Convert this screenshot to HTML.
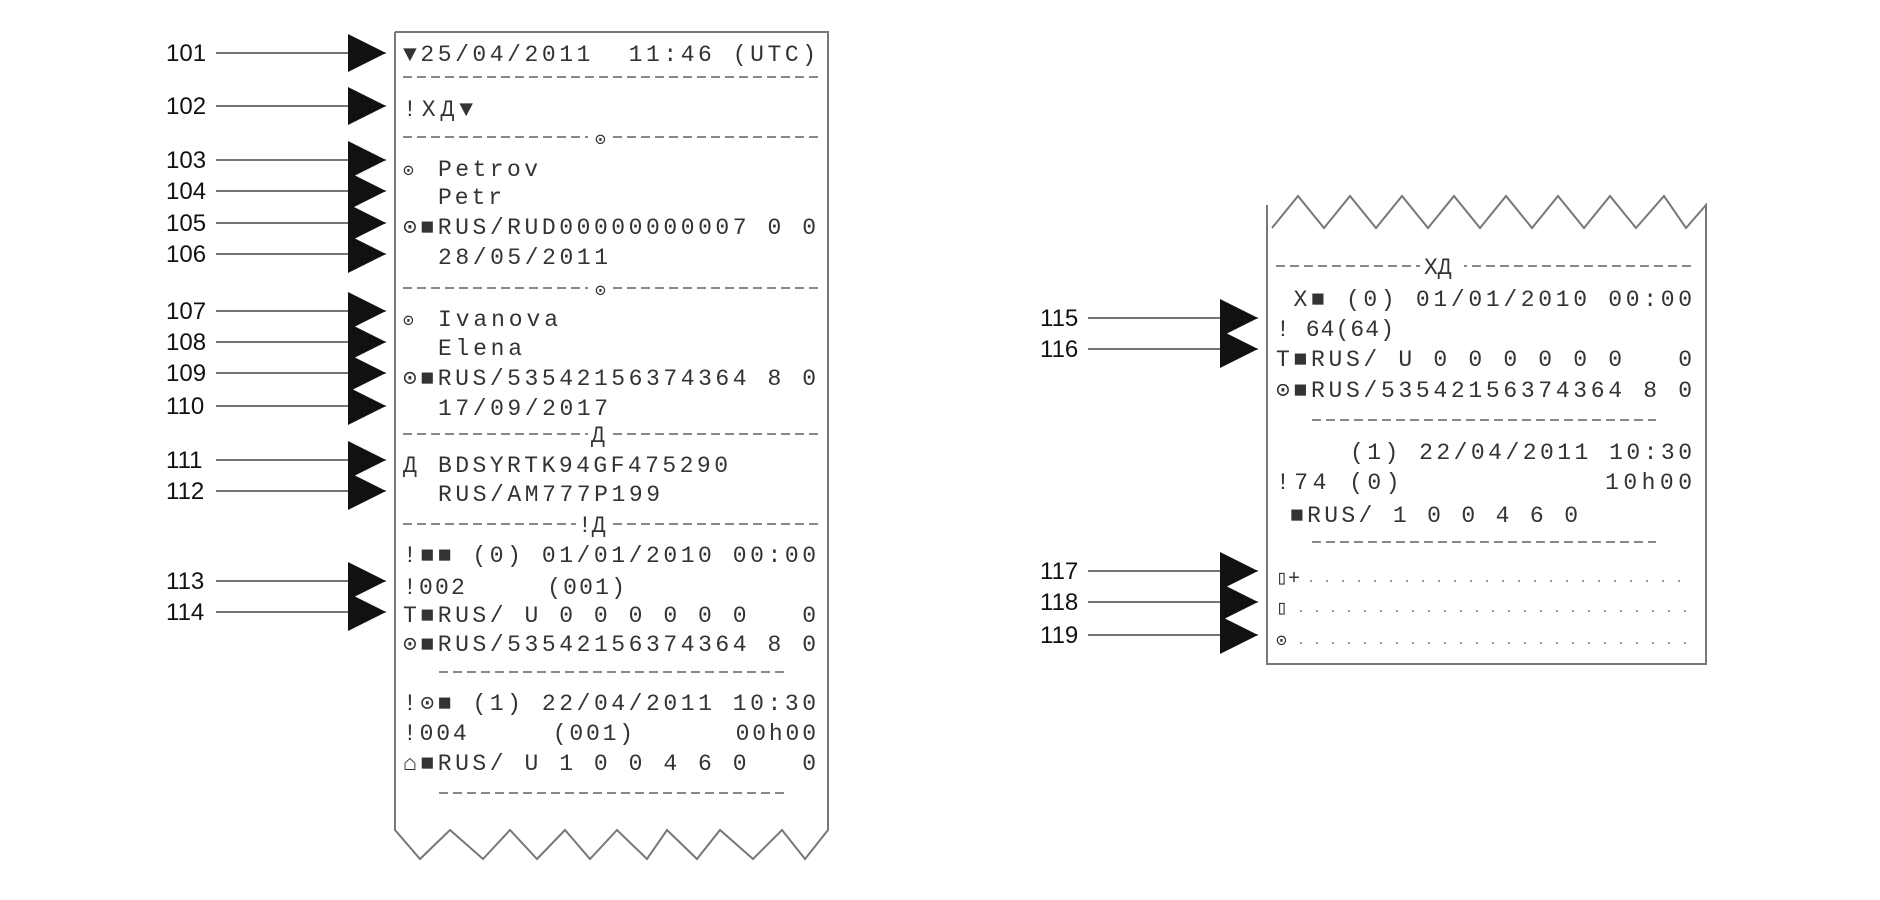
<!DOCTYPE html>
<html><head><meta charset="utf-8"><style>
html,body{margin:0;padding:0;background:#fff}
svg{display:block}
.n{font-family:"Liberation Sans",sans-serif;font-size:24px;fill:#111}
.t{font-family:"Liberation Mono","DejaVu Sans Mono",monospace;font-size:23px;fill:#333;white-space:pre}
.t text{white-space:pre}
</style></head><body>
<svg width="1880" height="900" viewBox="0 0 1880 900" xmlns="http://www.w3.org/2000/svg" xml:space="preserve">
<defs>
<g id="ar"><line x1="0" y1="0" x2="-170" y2="0" stroke="#222" stroke-width="1.3"/><polygon points="0,0 -38,-19 -38,19" fill="#111"/></g>
</defs>
<polyline points="395,32 395,830 420,859 450,830 483,859 510,830 537,859 565,830 590,859 617,830 647,859 667,830 697,859 720,830 753,859 782,830 805,859 828,830 828,32 395,32" fill="none" stroke="#777" stroke-width="2"/>
<g stroke="#888" stroke-width="2" stroke-dasharray="9,5">
<line x1="403" y1="77" x2="820" y2="77"/>
<line x1="403" y1="137" x2="820" y2="137"/>
<line x1="403" y1="288" x2="820" y2="288"/>
<line x1="403" y1="434" x2="820" y2="434"/>
<line x1="403" y1="524" x2="820" y2="524"/>
<line x1="439" y1="672" x2="785" y2="672"/>
<line x1="439" y1="793" x2="785" y2="793"/>
</g>
<g fill="#fff" stroke="none"><rect x="588" y="126" width="24" height="22"/><rect x="588" y="277" width="24" height="22"/><rect x="588" y="423" width="24" height="22"/><rect x="576" y="513" width="36" height="22"/></g>
<g class="t">
<text x="595" y="145" font-size="18">⊙</text><text x="595" y="296" font-size="18">⊙</text><text x="591" y="442">Д</text><text x="578" y="532">!Д</text>
<text x="403" y="61" textLength="413" lengthAdjust="spacing">▼25/04/2011  11:46 (UTC)</text>
<text x="403" y="116" textLength="70" lengthAdjust="spacing">!ХД▼</text>
<text x="403" y="176" font-size="18">⊙</text><text x="438" y="176" textLength="100" lengthAdjust="spacing">Petrov</text>
<text x="438" y="204" textLength="64" lengthAdjust="spacing">Petr</text>
<text x="403" y="234" textLength="413" lengthAdjust="spacing">⊙■RUS/RUD00000000007 0 0</text>
<text x="438" y="264" textLength="170" lengthAdjust="spacing">28/05/2011</text>
<text x="403" y="326" font-size="18">⊙</text><text x="438" y="326" textLength="120" lengthAdjust="spacing">Ivanova</text>
<text x="438" y="355" textLength="84" lengthAdjust="spacing">Elena</text>
<text x="403" y="385" textLength="413" lengthAdjust="spacing">⊙■RUS/53542156374364 8 0</text>
<text x="438" y="415" textLength="170" lengthAdjust="spacing">17/09/2017</text>
<text x="403" y="472">Д</text><text x="438" y="472" textLength="290" lengthAdjust="spacing">BDSYRTK94GF475290</text>
<text x="438" y="501" textLength="222" lengthAdjust="spacing">RUS/AM777P199</text>
<text x="403" y="562" textLength="413" lengthAdjust="spacing">!■■ (0) 01/01/2010 00:00</text>
<text x="403" y="594" textLength="222" lengthAdjust="spacing">!002     (001)</text>
<text x="403" y="622" textLength="413" lengthAdjust="spacing">T■RUS/ U 0 0 0 0 0 0   0</text>
<text x="403" y="651" textLength="413" lengthAdjust="spacing">⊙■RUS/53542156374364 8 0</text>
<text x="403" y="710" textLength="413" lengthAdjust="spacing">!⊙■ (1) 22/04/2011 10:30</text>
<text x="403" y="740" textLength="413" lengthAdjust="spacing">!004     (001)      00h00</text>
<text x="403" y="770" textLength="413" lengthAdjust="spacing">⌂■RUS/ U 1 0 0 4 6 0   0</text>
</g>
<g class="n">
<text x="166" y="61">101</text><text x="166" y="114">102</text><text x="166" y="168">103</text><text x="166" y="199">104</text>
<text x="166" y="231">105</text><text x="166" y="262">106</text><text x="166" y="319">107</text><text x="166" y="350">108</text>
<text x="166" y="381">109</text><text x="166" y="414">110</text><text x="166" y="468">111</text><text x="166" y="499">112</text>
<text x="166" y="589">113</text><text x="166" y="620">114</text>
</g>
<use href="#ar" x="386" y="53"/><use href="#ar" x="386" y="106"/><use href="#ar" x="386" y="160"/><use href="#ar" x="386" y="191"/>
<use href="#ar" x="386" y="223"/><use href="#ar" x="386" y="254"/><use href="#ar" x="386" y="311"/><use href="#ar" x="386" y="342"/>
<use href="#ar" x="386" y="373"/><use href="#ar" x="386" y="406"/><use href="#ar" x="386" y="460"/><use href="#ar" x="386" y="491"/>
<use href="#ar" x="386" y="581"/><use href="#ar" x="386" y="612"/>
<polyline points="1267,205 1267,664 1706,664 1706,205 1686,228 1664,196 1636,228 1610,196 1584,228 1558,196 1532,228 1506,196 1480,228 1454,196 1428,228 1402,196 1376,228 1350,196 1324,228 1298,196 1272,228" fill="none" stroke="#777" stroke-width="2"/>
<g stroke="#888" stroke-width="2" stroke-dasharray="9,5">
<line x1="1276" y1="266" x2="1692" y2="266"/>
<line x1="1312" y1="420" x2="1656" y2="420"/>
<line x1="1312" y1="542" x2="1656" y2="542"/>
</g>
<g stroke="#999" stroke-width="2" stroke-dasharray="2,14">
<line x1="1310" y1="581" x2="1692" y2="581"/><line x1="1300" y1="611" x2="1692" y2="611"/><line x1="1300" y1="643" x2="1692" y2="643"/>
</g>
<rect x="1420" y="255" width="44" height="22" fill="#fff"/>
<g class="t">
<text x="1424" y="274">ХД</text>
<text x="1276" y="306" textLength="416" lengthAdjust="spacing"> Х■ (0) 01/01/2010 00:00</text>
<text x="1276" y="336" textLength="118" lengthAdjust="spacing">! 64(64)</text>
<text x="1276" y="366" textLength="416" lengthAdjust="spacing">T■RUS/ U 0 0 0 0 0 0   0</text>
<text x="1276" y="397" textLength="416" lengthAdjust="spacing">⊙■RUS/53542156374364 8 0</text>
<text x="1350" y="459" textLength="342" lengthAdjust="spacing">(1) 22/04/2011 10:30</text>
<text x="1276" y="489" textLength="416" lengthAdjust="spacing">!74 (0)           10h00</text>
<text x="1290" y="522" textLength="288" lengthAdjust="spacing">■RUS/ 1 0 0 4 6 0</text>
<text x="1276" y="584" font-size="20">▯+</text><text x="1276" y="614" font-size="20">▯</text><text x="1276" y="646" font-size="18">⊙</text>
</g>
<g class="n">
<text x="1040" y="326">115</text><text x="1040" y="357">116</text><text x="1040" y="579">117</text><text x="1040" y="610">118</text><text x="1040" y="643">119</text>
</g>
<g transform="translate(872,0)">
<use href="#ar" x="386" y="318"/><use href="#ar" x="386" y="349"/><use href="#ar" x="386" y="571"/><use href="#ar" x="386" y="602"/><use href="#ar" x="386" y="635"/>
</g>
</svg>
</body></html>
